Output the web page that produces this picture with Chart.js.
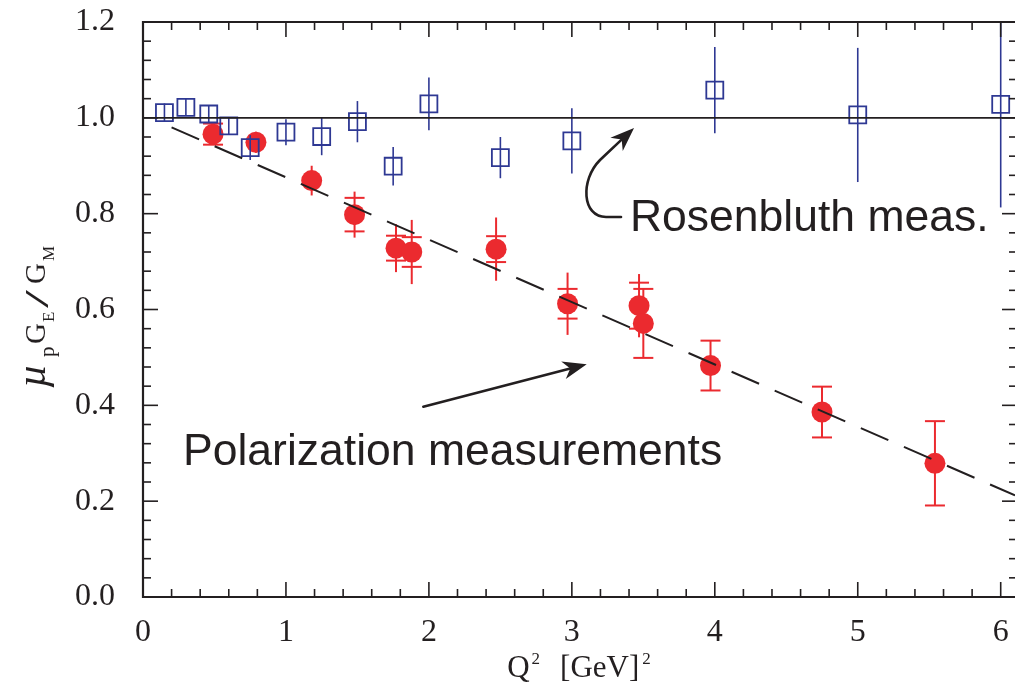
<!DOCTYPE html>
<html lang="en">
<head>
<meta charset="UTF-8">
<title>Proton form factor ratio</title>
<script src="https://cdn.jsdelivr.net/npm/chart.js"></script>
<style>
html, body { margin: 0; padding: 0; background: #fff; }
</style>
</head>
<body>
<canvas id="myChart" width="1015" height="686"></canvas>
<script>
// Rosenbluth separation points
const rosQ2    = [0.15, 0.30, 0.46, 0.60, 0.75, 1.00, 1.25, 1.50, 1.75, 2.00, 2.50, 3.00, 4.00, 5.00, 6.00];
const rosRatio = [1.011, 1.022, 1.008, 0.983, 0.938, 0.970, 0.961, 0.992, 0.899, 1.029, 0.917, 0.952, 1.058, 1.006, 1.028];
const rosErr   = [0.019, 0.018, 0.018, 0.018, 0.026, 0.027, 0.039, 0.043, 0.040, 0.055, 0.043, 0.068, 0.090, 0.140, 0.215];

// polarization transfer points (stat error with caps, total error as plain bar)
const polQ2    = [0.49, 0.79, 1.18, 1.48, 1.77, 1.88, 2.47, 2.97, 3.47, 3.50, 3.97, 4.75, 5.54];
const polRatio = [0.966, 0.949, 0.869, 0.798, 0.728, 0.720, 0.726, 0.612, 0.608, 0.571, 0.483, 0.386, 0.279];
const polStat  = [0.022, null, null, 0.035, 0.026, 0.031, 0.027, 0.031, 0.048, 0.072, 0.052, 0.053, 0.088];
const polTotal = [0.022, 0.022, 0.031, 0.048, 0.050, 0.067, 0.066, 0.065, 0.066, 0.072, 0.052, 0.053, 0.088];

// linear fit and unity line
const fitQ2    = [0.2, 6.1];
const fitRatio = [0.980, 0.212];
const unityQ2  = [0, 6.1];
const unity    = [1, 1];

const xTicks = [0, 1, 2, 3, 4, 5, 6];
const yTicks = [0, 0.2, 0.4, 0.6, 0.8, 1.0, 1.2];

// labels and arrows, in data units
const rosLabelAt = [3.406, 0.764];
const polLabelAt = [0.280, 0.2755];
const polArrow   = [[1.961, 0.397], [3.104, 0.486]];
const rosArrow   = [[3.344, 0.793], [3.239, 0.793], [3.071, 0.793], [3.057, 0.870], [3.197, 0.912], [3.435, 0.979]];

const RED = '#eb2a2f';
const BLUE = '#2e3893';
const INK = '#231f20';

function pts(xs, ys) {
  return xs.map((x, i) => ({ x: x, y: ys[i] }));
}

function seg(ctx, x1, y1, x2, y2) {
  ctx.beginPath(); ctx.moveTo(x1, y1); ctx.lineTo(x2, y2); ctx.stroke();
}

function arrowHead(ctx, x, y, ang) {
  const L = 24, W = 9, N = 7;
  ctx.save();
  ctx.translate(x, y);
  ctx.rotate(ang);
  ctx.beginPath();
  ctx.moveTo(0, 0);
  ctx.lineTo(-L, -W);
  ctx.lineTo(-L + N, 0);
  ctx.lineTo(-L, W);
  ctx.closePath();
  ctx.fill();
  ctx.restore();
}

// no extra room for overhanging tick labels
function fixPadding(s) {
  s.paddingTop = 0; s.paddingBottom = 0; s.paddingLeft = 0; s.paddingRight = 0;
}

// error bars, drawn just before their own dataset
const errorBars = {
  id: 'errorBars',
  beforeDatasetDraw(chart, args) {
    const ds = chart.data.datasets[args.index];
    if (!ds.errTotal) return;
    const ctx = chart.ctx, ys = chart.scales.y, a = chart.chartArea;
    ctx.save();
    ctx.beginPath(); ctx.rect(a.left, a.top, a.right - a.left, a.bottom - a.top); ctx.clip();
    ctx.strokeStyle = ds.barColor;
    ctx.lineWidth = ds.barWidth;
    args.meta.data.forEach((el, i) => {
      const v = ds.data[i].y, t = ds.errTotal[i];
      seg(ctx, el.x, ys.getPixelForValue(v + t), el.x, ys.getPixelForValue(v - t));
      const s = ds.errStat ? ds.errStat[i] : null;
      if (s) {
        const h = ds.capHalf;
        seg(ctx, el.x - h, ys.getPixelForValue(v + s), el.x + h, ys.getPixelForValue(v + s));
        seg(ctx, el.x - h, ys.getPixelForValue(v - s), el.x + h, ys.getPixelForValue(v - s));
      }
    });
    ctx.restore();
  }
};

// frame with inward ticks, axis titles, text labels and arrows
const decor = {
  id: 'decor',
  afterDraw(chart) {
    const ctx = chart.ctx, xs = chart.scales.x, ys = chart.scales.y;
    const { left, right, top, bottom } = chart.chartArea;
    const X = v => xs.getPixelForValue(v), Y = v => ys.getPixelForValue(v);
    ctx.save();
    ctx.strokeStyle = INK;
    ctx.lineWidth = 1.6;
    for (let i = 0; i <= 30; i++) {
      const px = X(i * 0.2);
      const len = i % 5 === 0 ? 15 : 8;
      seg(ctx, px, bottom, px, bottom - len);
      seg(ctx, px, top, px, top + len);
    }
    for (let i = 0; i <= 30; i++) {
      const py = Y(i * 0.04);
      const len = i % 5 === 0 ? 15 : 8;
      seg(ctx, left, py, left + len, py);
      seg(ctx, right, py, right - len + 2, py);
    }
    ctx.lineWidth = 2.2;
    ctx.beginPath();
    ctx.moveTo(right, top); ctx.lineTo(left, top); ctx.lineTo(left, bottom); ctx.lineTo(right, bottom);
    ctx.stroke();

    // y title: mu_p G_E / G_M, rotated; offsets run along the text
    ctx.fillStyle = INK;
    ctx.textBaseline = 'alphabetic';
    ctx.save();
    ctx.translate(45, 388);
    ctx.rotate(-Math.PI / 2);
    const yTitle = [
      ['\u00b5', 'italic 42px "Liberation Serif"', 0, 0],
      ['p', '21px "Liberation Serif"', 31, 9],
      ['G', '29px "Liberation Serif"', 44, 0],
      ['E', '17px "Liberation Serif"', 66, 9],
      ['G', '29px "Liberation Serif"', 104, 0],
      ['M', '17px "Liberation Serif"', 127, 9]
    ];
    yTitle.forEach(p => { ctx.font = p[1]; ctx.fillText(p[0], p[2], p[3]); });
    // long slanted slash between the two form factors
    ctx.save();
    ctx.translate(80, 3);
    ctx.scale(1.9, 1);
    ctx.font = '34px "Liberation Serif"';
    ctx.fillText('/', 0, 0);
    ctx.restore();
    ctx.restore();

    // x title: Q^2 [GeV]^2
    const parts = [
      ['Q', '31px "Liberation Serif"', 0, 2],
      ['2', '17px "Liberation Serif"', -13, 20],
      ['[GeV]', '31px "Liberation Serif"', 0, 3],
      ['2', '17px "Liberation Serif"', -13, 0]
    ];
    let w = 0;
    parts.forEach(p => { ctx.font = p[1]; w += ctx.measureText(p[0]).width + p[3]; });
    let tx = 579 - w / 2;
    parts.forEach(p => {
      ctx.font = p[1];
      ctx.fillText(p[0], tx, 677 + p[2]);
      tx += ctx.measureText(p[0]).width + p[3];
    });

    // text labels
    ctx.fillStyle = INK;
    ctx.font = '44.5px "Liberation Sans", Arial, sans-serif';
    ctx.fillText('Rosenbluth meas.', X(rosLabelAt[0]), Y(rosLabelAt[1]));
    ctx.fillText('Polarization measurements', X(polLabelAt[0]), Y(polLabelAt[1]));

    // arrows
    ctx.strokeStyle = INK;
    ctx.lineWidth = 2.6;
    ctx.lineCap = 'round';
    const a0 = polArrow[0], a1 = polArrow[1];
    const angA = Math.atan2(Y(a1[1]) - Y(a0[1]), X(a1[0]) - X(a0[0]));
    seg(ctx, X(a0[0]), Y(a0[1]), X(a1[0]) - 16 * Math.cos(angA), Y(a1[1]) - 16 * Math.sin(angA));
    arrowHead(ctx, X(a1[0]), Y(a1[1]), angA);

    const r = rosArrow.map(p => [X(p[0]), Y(p[1])]);
    const angB = Math.atan2(r[5][1] - r[4][1], r[5][0] - r[4][0]);
    ctx.beginPath();
    ctx.moveTo(r[0][0], r[0][1]);
    ctx.lineTo(r[1][0], r[1][1]);
    ctx.bezierCurveTo(r[2][0], r[2][1], r[3][0], r[3][1], r[4][0], r[4][1]);
    ctx.lineTo(r[5][0] - 16 * Math.cos(angB), r[5][1] - 16 * Math.sin(angB));
    ctx.stroke();
    arrowHead(ctx, r[5][0], r[5][1], angB);
    ctx.restore();
  }
};

const ctx = document.getElementById('myChart').getContext('2d');
const myChart = new Chart(ctx, {
  type: 'scatter',
  data: {
    datasets: [
      {
        label: 'unity',
        data: pts(unityQ2, unity),
        showLine: true,
        borderColor: INK,
        borderWidth: 1.6,
        pointRadius: 0,
        order: 0
      },
      {
        label: 'fit',
        data: pts(fitQ2, fitRatio),
        showLine: true,
        borderColor: INK,
        borderWidth: 2,
        borderDash: [30, 17],
        pointRadius: 0,
        order: 0
      },
      {
        label: 'Rosenbluth',
        data: pts(rosQ2, rosRatio),
        errTotal: rosErr,
        barColor: BLUE,
        barWidth: 1.6,
        capHalf: 0,
        pointStyle: 'rect',
        pointRadius: 12,
        borderWidth: 1.8,
        borderColor: BLUE,
        backgroundColor: 'rgba(255,255,255,0)',
        order: 1
      },
      {
        label: 'Polarization',
        data: pts(polQ2, polRatio),
        errTotal: polTotal,
        errStat: polStat,
        barColor: RED,
        barWidth: 2,
        capHalf: 10,
        pointStyle: 'circle',
        pointRadius: 10.5,
        borderWidth: 0,
        borderColor: RED,
        backgroundColor: RED,
        order: 2
      }
    ]
  },
  options: {
    responsive: false,
    animation: false,
    layout: { autoPadding: false, padding: { top: 22, left: 0, right: 0, bottom: 0 } },
    plugins: {
      legend: { display: false },
      tooltip: { enabled: false }
    },
    scales: {
      x: {
        type: 'linear',
        min: 0,
        max: 6.1,
        afterFit(s) { s.height = 89; fixPadding(s); },
        afterBuildTicks(s) { s.ticks = xTicks.map(v => ({ value: v })); },
        grid: { display: false, drawTicks: false },
        border: { display: false },
        ticks: {
          padding: 16,
          color: INK,
          font: { family: 'Liberation Serif', size: 32 },
          callback: v => String(v)
        }
      },
      y: {
        type: 'linear',
        min: 0,
        max: 1.2,
        afterFit(s) { s.width = 143; fixPadding(s); },
        afterBuildTicks(s) { s.ticks = yTicks.map(v => ({ value: v })); },
        grid: { display: false, drawTicks: false },
        border: { display: false },
        ticks: {
          padding: 28,
          color: INK,
          font: { family: 'Liberation Serif', size: 32 },
          callback: v => v.toFixed(1)
        }
      }
    }
  },
  plugins: [errorBars, decor]
});
</script>
</body>
</html>
